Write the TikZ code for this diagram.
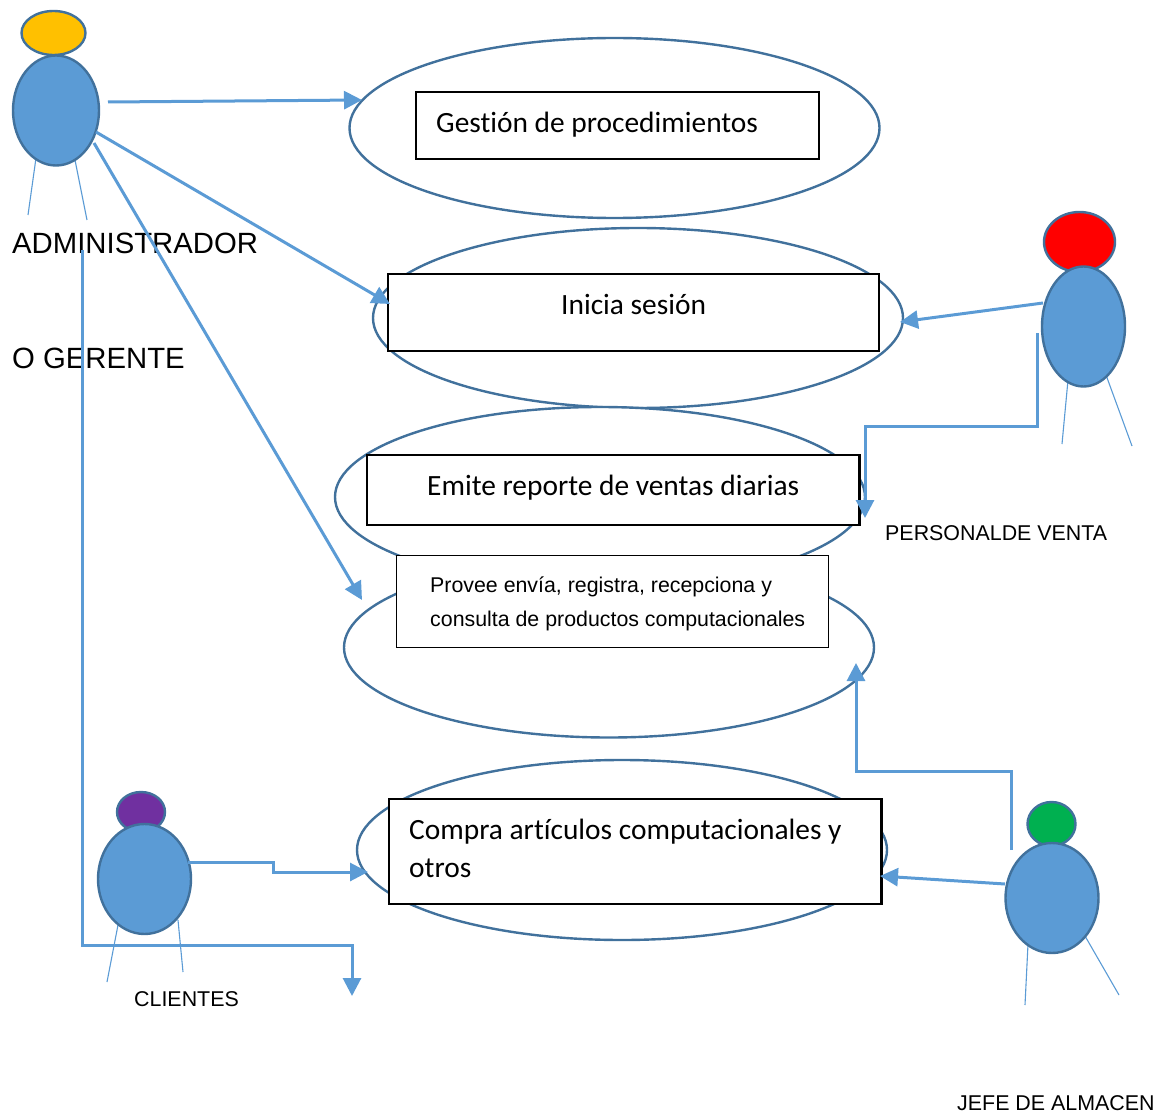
\documentclass[tikz,border=0pt]{standalone}
\usepackage{fontspec}
\setmainfont{Liberation Sans}
\newfontfamily\calfont[Ligatures=NoCommon]{Carlito}
\usetikzlibrary{arrows.meta,shapes.geometric}
\definecolor{edgeblue}{HTML}{41719C}
\definecolor{fillblue}{HTML}{5B9BD5}
\definecolor{headorange}{HTML}{FFC000}
\definecolor{headpurple}{HTML}{7030A0}
\definecolor{headgreen}{HTML}{00B050}
\tikzset{
 x=1pt,y=-1pt,
 usecase/.style={ellipse,draw=edgeblue,line width=2.4pt,fill=white,inner sep=0pt,outer sep=0pt,minimum width=530pt,minimum height=180pt},
 actorshape/.style={ellipse,draw=edgeblue,line width=2.4pt,fill=fillblue,inner sep=0pt,outer sep=0pt},
 box/.style={draw=black,line width=2.1pt,fill=white,inner sep=0pt,outer sep=0pt,anchor=north west},
 limb/.style={draw=fillblue,line width=1.1pt},
 conn/.style={draw=fillblue,line width=3pt,-{Triangle[length=18pt,width=18pt]}},
 boxtext/.style={font=\calfont\fontsize{29.4}{38}\selectfont,anchor=west,inner sep=0pt},
 small/.style={font=\fontsize{21.35}{34}\selectfont,anchor=west,inner sep=0pt},
 lab/.style={font=\fontsize{21.4}{26}\selectfont,anchor=west,inner sep=0pt},
 big/.style={font=\fontsize{29.3}{34}\selectfont,anchor=west,inner sep=0pt},
}
\begin{document}
\begin{tikzpicture}
\useasboundingbox (0,0) rectangle (1162,1118);
% use cases
\node[usecase] (u1) at (614.5,128) {};
\node[usecase] (u2) at (638,318) {};
\node[usecase] (u3) at (600,497) {};
\node[usecase] (u4) at (609,647.5) {};
\node[usecase] (u5) at (622,850) {};
\coordinate (u1w) at (362,100);
\coordinate (u2e) at (900,322);
\coordinate (u2w) at (390,304);
\coordinate (u3e) at (865,518);
\coordinate (u4w) at (362,600);
\coordinate (u4e) at (856,663);
\coordinate (u5w) at (368,872);
\coordinate (u5e) at (880,876);
\coordinate (free) at (352,996);
% boxes
\node[box,minimum width=403pt,minimum height=67pt] (b1) at (416,92) {};
\node[boxtext] (t1) at (436,125) {Gestión de procedimientos};
\node[box,minimum width=491pt,minimum height=77pt] (b2) at (388,274) {};
\node[boxtext] (t2) at (561,304) {Inicia sesión};
\node[box,minimum width=492.5pt,minimum height=70pt] (b3) at (367,455) {};
\node[boxtext] (t3) at (427,488) {Emite reporte de ventas diarias};
\node[box,line width=0.8pt,minimum width=432.5pt,minimum height=92pt] (b4) at (396,555) {};
\node[small] (t4a) at (430,587) {Provee envía, registra, recepciona y};
\node[small] (t4b) at (430,621) {consulta de productos computacionales};
\node[box,minimum width=492.5pt,minimum height=105pt] (b5) at (389,799) {};
\node[boxtext] (t5a) at (409,832) {Compra artículos computacionales y};
\node[boxtext] (t5b) at (409,868) {otros};
% actors
\draw[limb] (36,158)--(28,215); \draw[limb] (75,160)--(87,220);
\node[actorshape,fill=headorange,minimum width=64pt,minimum height=44pt] (h1) at (53.5,33) {};
\node[actorshape,minimum width=86pt,minimum height=110pt] (a1) at (56,110.5) {};
\draw[limb] (1068,380)--(1062,444); \draw[limb] (1106,375)--(1132,446);
\node[actorshape,fill=red,minimum width=71pt,minimum height=60pt] (h2) at (1079.5,242) {};
\node[actorshape,minimum width=83pt,minimum height=120pt] (a2) at (1083.5,326.5) {};
\draw[limb] (118,925)--(107,982); \draw[limb] (178,920)--(183,972);
\node[actorshape,fill=headpurple,minimum width=48pt,minimum height=40pt] (h3) at (141,812) {};
\node[actorshape,minimum width=93pt,minimum height=110pt] (a3) at (144.5,879) {};
\draw[limb] (1028,944)--(1025,1005); \draw[limb] (1085,936)--(1119,995);
\node[actorshape,fill=headgreen,minimum width=48pt,minimum height=44pt] (h4) at (1051.5,824) {};
\node[actorshape,minimum width=93pt,minimum height=110pt] (a4) at (1052,898) {};
\coordinate (a1a) at (108,102);
\coordinate (a1b) at (96,132);
\coordinate (a1c) at (94,143);
\coordinate (a1d) at (82,250);
\coordinate (a2a) at (1043,303);
\coordinate (a2b) at (1037,333);
\coordinate (a3a) at (188,862);
\coordinate (a4a) at (1011,850);
\coordinate (a4b) at (1005,884);
% labels
\node[big] (l1) at (12,243) {ADMINISTRADOR};
\node[big] (l2) at (12,358) {O GERENTE};
\node[lab] (l3) at (885,533) {PERSONALDE VENTA};
\node[lab] (l4) at (134,999) {CLIENTES};
\node[lab] (l5) at (957,1103.5) {JEFE DE ALMACEN};
% connectors
\draw[conn] (a1a)--(u1w);
\draw[conn] (a1b)--(u2w);
\draw[conn] (a1c)--(u4w);
\draw[conn] (a1d)--(82,945)--(352,945)--(free);
\draw[conn] (a2a)--(u2e);
\draw[conn] (a2b)--(1037,426)--(865,426)--(u3e);
\draw[conn] (a3a)--(273,862)--(273,872)--(u5w);
\draw[conn] (a4a)--(1011,771)--(856,771)--(u4e);
\draw[conn] (a4b)--(u5e);
\end{tikzpicture}
\end{document}
